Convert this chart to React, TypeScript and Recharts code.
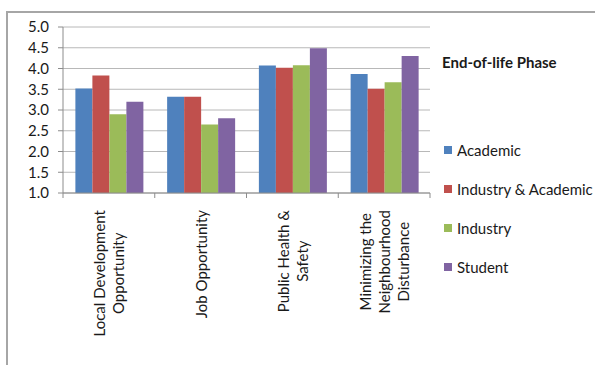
import React from 'react';
import { BarChart, Bar, XAxis, YAxis, CartesianGrid, Legend } from 'recharts';

// Rating categories and their wrapped axis labels
const categories = [
  'Local Development Opportunity',
  'Job Opportunity',
  'Public Health & Safety',
  'Minimizing the Neighbourhood Disturbance',
];
const categoryLines = [
  ['Local Development', 'Opportunity'],
  ['Job Opportunity'],
  ['Public Health &', 'Safety'],
  ['Minimizing the', 'Neighbourhood', 'Disturbance'],
];

// Mean scores per respondent group
const academic = [3.52, 3.32, 4.07, 3.87];
const industryAcademic = [3.83, 3.32, 4.02, 3.51];
const industry = [2.9, 2.65, 4.08, 3.67];
const student = [3.2, 2.8, 4.49, 4.3];

const yTicks = [1.0, 1.5, 2.0, 2.5, 3.0, 3.5, 4.0, 4.5, 5.0];

const series = [
  { key: 'academic', name: 'Academic', color: '#4F81BD' },
  { key: 'industryAcademic', name: 'Industry & Academic', color: '#C0504D' },
  { key: 'industry', name: 'Industry', color: '#9BBB59' },
  { key: 'student', name: 'Student', color: '#8064A2' },
];

const data = categories.map((name, i) => ({
  name,
  academic: academic[i],
  industryAcademic: industryAcademic[i],
  industry: industry[i],
  student: student[i],
}));

const FONT = 'Lato, "Open Sans", sans-serif';
const LABEL_SIZE = 15;
const AXIS_COLOR = '#8c8c8c';

let measureCtx: CanvasRenderingContext2D | null = null;
function textWidth(s: string, size: number): number {
  if (!measureCtx) {
    const c = document.createElement('canvas');
    measureCtx = c.getContext('2d');
  }
  if (!measureCtx) return s.length * size * 0.5;
  measureCtx.font = `${size}px ${FONT}`;
  return measureCtx.measureText(s).width;
}

// Rotated, multi-line category label plus the boundary tick marks
const CategoryTick = (props: any) => {
  const { x, y, payload } = props;
  const index: number = payload?.index ?? 0;
  const half: number = payload?.offset ?? 45.9;
  const lines = categoryLines[index] ?? [String(payload?.value ?? '')];
  const maxW = Math.max(...lines.map((l) => textWidth(l, LABEL_SIZE)));
  const top = y + 17;
  const cy = top + maxW / 2;
  const spacing = 19;
  return (
    <g>
      {index === 0 && (
        <line x1={x - half} x2={x - half} y1={y} y2={y + 5} stroke={AXIS_COLOR} />
      )}
      <line x1={x + half} x2={x + half} y1={y} y2={y + 5} stroke={AXIS_COLOR} />
      {lines.map((line, i) => {
        const lx = x + (i - (lines.length - 1) / 2) * spacing;
        return (
          <text
            key={i}
            x={lx}
            y={cy}
            transform={`rotate(-90, ${lx}, ${cy})`}
            textAnchor="middle"
            dominantBaseline="central"
            fontFamily={FONT}
            fontSize={LABEL_SIZE}
            fill="#1a1a1a"
          >
            {line}
          </text>
        );
      })}
    </g>
  );
};

const LegendBox = () => (
  <div style={{ fontFamily: FONT, color: '#1a1a1a' }}>
    <div style={{ fontWeight: 700, fontSize: 15, lineHeight: '20px', height: 20, marginLeft: 2 }}>
      End-of-life Phase
    </div>
    <div style={{ height: 58 }} />
    {series.map((s) => (
      <div
        key={s.key}
        style={{ display: 'flex', alignItems: 'center', height: 39, fontSize: LABEL_SIZE }}
      >
        <span
          style={{ display: 'inline-block', width: 8, height: 8, background: s.color, marginLeft: 4, marginRight: 5 }}
        />
        <span style={{ whiteSpace: 'nowrap' }}>{s.name}</span>
      </div>
    ))}
  </div>
);

export default function App() {
  return (
    <div style={{ position: 'absolute', left: 0, top: 0, width: 595, height: 365, background: '#fff', overflow: 'hidden' }}>
      <div
        style={{
          position: 'absolute',
          left: 6,
          top: 11,
          right: -10,
          bottom: -10,
          borderLeft: '2px solid #a6a6a6',
          borderTop: '2px solid #a6a6a6',
        }}
      />
      <BarChart
        width={595}
        height={365}
        data={data}
        margin={{ top: 27, right: 165, bottom: 0, left: 0 }}
        barCategoryGap="13.5%"
        barGap={0}
        style={{ position: 'absolute', left: 0, top: 0 }}
      >
        <CartesianGrid vertical={false} stroke="#b8b8b8" />
        <XAxis
          dataKey="name"
          height={172}
          interval={0}
          tickLine={false}
          tickSize={0}
          tickMargin={0}
          axisLine={{ stroke: AXIS_COLOR }}
          tick={<CategoryTick />}
        />
        <YAxis
          width={63}
          domain={[1, 5]}
          ticks={yTicks}
          interval={0}
          tickSize={5}
          tickMargin={9}
          tickLine={{ stroke: AXIS_COLOR }}
          axisLine={{ stroke: AXIS_COLOR }}
          tickFormatter={(v: number) => v.toFixed(1)}
          tick={{ fontFamily: FONT, fontSize: LABEL_SIZE, fill: '#1a1a1a' }}
        />
        <Legend
          layout="vertical"
          align="center"
          verticalAlign="middle"
          content={<LegendBox />}
          wrapperStyle={{ position: 'absolute', left: 440, top: 52, width: 155 }}
        />
        {series.map((s) => (
          <Bar key={s.key} dataKey={s.key} name={s.name} fill={s.color} isAnimationActive={false} />
        ))}
      </BarChart>
    </div>
  );
}
